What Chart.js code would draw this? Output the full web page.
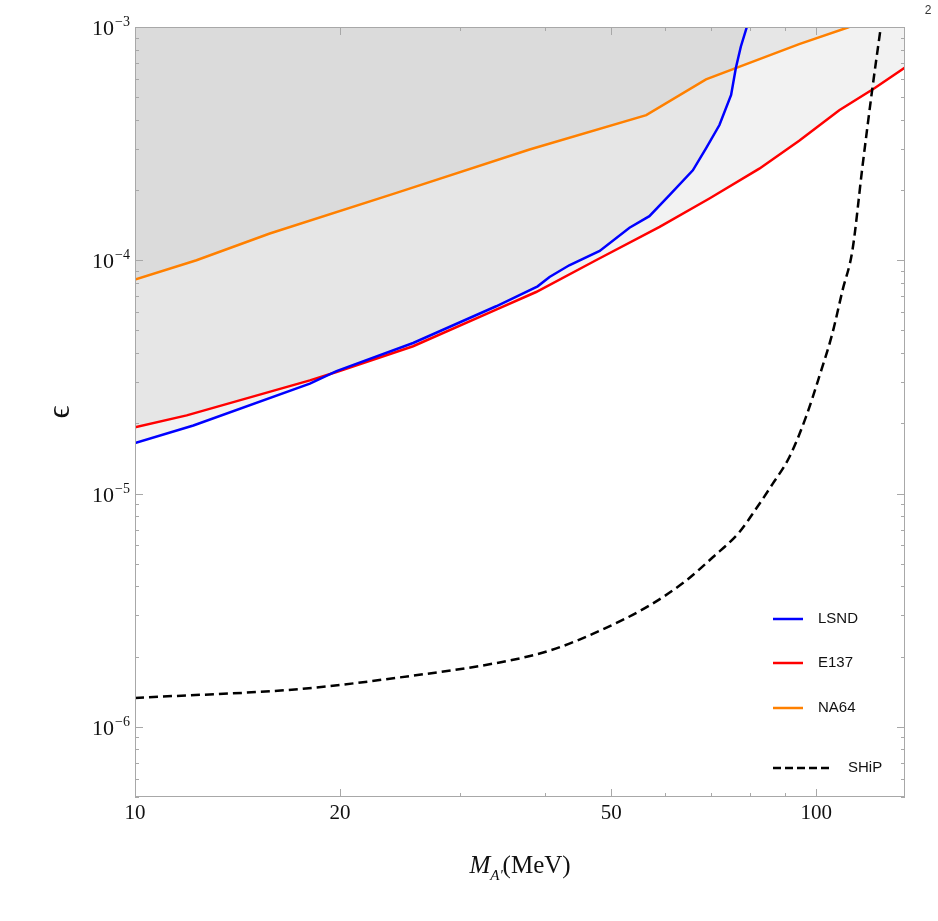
<!DOCTYPE html>
<html>
<head>
<meta charset="utf-8">
<script src="https://cdn.jsdelivr.net/npm/chart.js@4/dist/chart.umd.min.js"></script>
<style>
  html, body { margin: 0; padding: 0; background: #fff; }
  #wrap { width: 938px; height: 921px; }
</style>
</head>
<body>
<div id="wrap"><canvas id="myChart" width="938" height="921"></canvas></div>
<script>
// LSND
var lsndMass = [10, 12.18, 18.06, 19.76, 25.6, 33.9, 39.0, 40.6, 43.4, 48.1, 53.2, 56.9, 60.9, 65.9, 68.9, 72.1, 75.0, 76.2, 77.5, 79.1];
var lsndEps = [1.644e-5, 1.958e-5, 2.96e-5, 3.35e-5, 4.42e-5, 6.35e-5, 7.73e-5, 8.48e-5, 9.52e-5, 1.096e-4, 1.379e-4, 1.545e-4, 1.90e-4, 2.43e-4, 3.02e-4, 3.80e-4, 5.11e-4, 6.65e-4, 8.23e-4, 1.0e-3];

// E137
var e137Mass = [10, 11.91, 18.06, 19.76, 25.6, 33.9, 38.8, 47.5, 58.9, 69.7, 82.5, 94.4, 108.1, 121.6, 135];
var e137Eps = [1.925e-5, 2.162e-5, 3.055e-5, 3.32e-5, 4.28e-5, 6.14e-5, 7.31e-5, 1.0e-4, 1.39e-4, 1.84e-4, 2.47e-4, 3.25e-4, 4.40e-4, 5.45e-4, 6.7e-4];

// NA64
var na64Mass = [10, 12.31, 15.77, 24.2, 37.95, 56.3, 68.9, 94.4, 111.8];
var na64Eps = [8.26e-5, 1.0e-4, 1.302e-4, 1.944e-4, 2.985e-4, 4.19e-4, 5.96e-4, 8.45e-4, 1.0e-3];

// SHiP projection
var shipMass = [10, 17.46, 24.47, 34.3, 40.6, 48.1, 56.9, 64.4, 70.5, 77.1, 81.6, 86.3, 91.3, 96.6, 101.0, 105.6, 109.3, 113.0, 116.9, 120.9, 124.4];
var shipEps = [1.33e-6, 1.452e-6, 1.628e-6, 1.888e-6, 2.12e-6, 2.58e-6, 3.31e-6, 4.23e-6, 5.33e-6, 6.82e-6, 8.60e-6, 1.10e-5, 1.43e-5, 2.13e-5, 3.16e-5, 4.85e-5, 7.43e-5, 1.10e-4, 2.51e-4, 5.45e-4, 1.0e-3];

// axes
var xTickValues = [10, 20, 50, 100];
var yTickExponents = [-3, -4, -5, -6];
var xMin = 10, xMax = 135;
var yMin = 5e-7, yMax = 1e-3;

function pts(xs, ys) {
  return xs.map(function (x, i) { return { x: x, y: ys[i] }; });
}

var shade = 'rgba(0, 0, 0, 0.05)';
var serif = "'Liberation Serif', 'DejaVu Serif', serif";
var sans = "'Liberation Sans', Arial, sans-serif";

// frame, inward ticks, tick labels and axis titles (Mathematica style)
var framePlugin = {
  id: 'frame',
  afterDraw: function (chart) {
    var c = chart.ctx, a = chart.chartArea;
    var xs = chart.scales.x, ys = chart.scales.y;
    c.save();
    c.strokeStyle = '#a8a8a8';
    c.lineWidth = 1;
    c.strokeRect(a.left + 0.5, a.top + 0.5, a.right - a.left - 1, a.bottom - a.top - 1);

    function xTick(v, len) {
      var p = Math.round(xs.getPixelForValue(v)) + 0.5;
      c.beginPath();
      c.moveTo(p, a.bottom); c.lineTo(p, a.bottom - len);
      c.moveTo(p, a.top); c.lineTo(p, a.top + len);
      c.stroke();
    }
    function yTick(v, len) {
      var p = Math.round(ys.getPixelForValue(v)) + 0.5;
      c.beginPath();
      c.moveTo(a.left, p); c.lineTo(a.left + len, p);
      c.moveTo(a.right, p); c.lineTo(a.right - len, p);
      c.stroke();
    }
    // minor ticks: k * 10^n inside range
    for (var n = 0; n <= 2; n++) {
      for (var k = 1; k <= 9; k++) {
        var v = k * Math.pow(10, n);
        if (v <= xMin || v > xMax) continue;
        xTick(v, xTickValues.indexOf(v) >= 0 ? 8 : 4);
      }
    }
    for (var e = -7; e <= -3; e++) {
      for (var k2 = 1; k2 <= 9; k2++) {
        var w = k2 * Math.pow(10, e);
        if (w < yMin || w > yMax * 1.0001) continue;
        yTick(w, k2 === 1 ? 8 : 4);
      }
    }

    // x tick labels
    c.fillStyle = '#111';
    c.font = '21px ' + serif;
    c.textAlign = 'center';
    c.textBaseline = 'alphabetic';
    xTickValues.forEach(function (v) {
      c.fillText(String(v), xs.getPixelForValue(v), a.bottom + 22);
    });

    // y tick labels 10^n
    yTickExponents.forEach(function (ex) {
      var p = ys.getPixelForValue(Math.pow(10, ex));
      var sup = '\u2212' + Math.abs(ex);
      c.font = '14px ' + serif;
      var ws = c.measureText(sup).width;
      c.textAlign = 'right';
      c.fillText(sup, a.left - 5, p - 1);
      c.font = '22px ' + serif;
      c.fillText('10', a.left - 6 - ws, p + 8);
    });

    // y title
    c.save();
    c.translate(61, (a.top + a.bottom) / 2);
    c.rotate(-Math.PI / 2);
    c.font = '32px ' + serif;
    c.textAlign = 'center';
    c.textBaseline = 'middle';
    c.fillText('\u03F5', 0, 0);
    c.restore();

    // x title: M_A' (MeV)
    var parts = [
      { t: 'M', f: 'italic 25px ' + serif, dy: 0 },
      { t: "A'", f: 'italic 15px ' + serif, dy: 7 },
      { t: '(MeV)', f: '25px ' + serif, dy: 0 }
    ];
    var total = 0;
    parts.forEach(function (p) { c.font = p.f; p.w = c.measureText(p.t).width; total += p.w; });
    var x0 = (a.left + a.right) / 2 - total / 2;
    c.textAlign = 'left';
    parts.forEach(function (p) {
      c.font = p.f;
      c.fillText(p.t, x0, 873 + p.dy);
      x0 += p.w;
    });

    // stray corner label
    c.font = '12px ' + sans;
    c.fillStyle = '#333';
    c.textAlign = 'center';
    c.fillText('2', 928, 14);
    c.restore();
  }
};

// legend inside plot, lower right
var legendPlugin = {
  id: 'innerLegend',
  afterDraw: function (chart) {
    var c = chart.ctx;
    var rows = [619, 663, 708, 768];
    c.save();
    c.font = '15px ' + sans;
    c.textBaseline = 'middle';
    c.textAlign = 'left';
    chart.data.datasets.forEach(function (ds, i) {
      var y = rows[i];
      var dashed = ds.borderDash && ds.borderDash.length;
      c.strokeStyle = ds.borderColor;
      c.lineWidth = 2.5;
      c.setLineDash(dashed ? [8, 4] : []);
      c.beginPath();
      c.moveTo(773, y);
      c.lineTo(dashed ? 829 : 803, y);
      c.stroke();
      c.setLineDash([]);
      c.fillStyle = '#111';
      c.fillText(ds.label, dashed ? 848 : 818, y);
    });
    c.restore();
  }
};

var ctx = document.getElementById('myChart').getContext('2d');
var myChart = new Chart(ctx, {
  type: 'line',
  data: {
    datasets: [{
      label: 'LSND',
      data: pts(lsndMass, lsndEps),
      borderColor: '#0000ff',
      backgroundColor: shade,
      fill: 'end',
      borderWidth: 2.5
    }, {
      label: 'E137',
      data: pts(e137Mass, e137Eps),
      borderColor: '#ff0000',
      backgroundColor: shade,
      fill: 'end',
      borderWidth: 2.5
    }, {
      label: 'NA64',
      data: pts(na64Mass, na64Eps),
      borderColor: '#ff8000',
      backgroundColor: shade,
      fill: 'end',
      borderWidth: 2.5
    }, {
      label: 'SHiP',
      data: pts(shipMass, shipEps),
      borderColor: '#000000',
      borderDash: [9, 5],
      fill: false,
      borderWidth: 2.5,
      cubicInterpolationMode: 'monotone',
      order: -1
    }]
  },
  options: {
    responsive: false,
    animation: false,
    events: [],
    layout: { padding: { left: 135, right: 33, top: 27, bottom: 124 } },
    elements: { point: { radius: 0 }, line: { tension: 0 } },
    plugins: {
      legend: { display: false },
      tooltip: { enabled: false },
      filler: { drawTime: 'beforeDatasetsDraw' }
    },
    scales: {
      x: { type: 'logarithmic', min: xMin, max: xMax, display: false },
      y: { type: 'logarithmic', min: yMin, max: yMax, display: false }
    }
  },
  plugins: [framePlugin, legendPlugin]
});
</script>
</body>
</html>
